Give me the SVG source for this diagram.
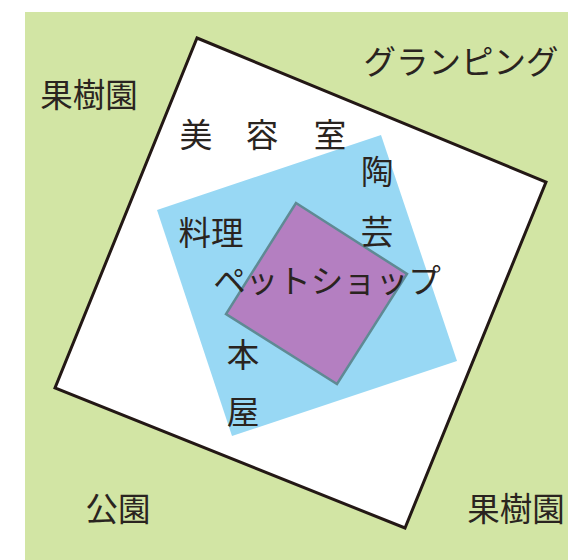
<svg xmlns="http://www.w3.org/2000/svg" width="568" height="560" viewBox="0 0 568 560">
<style>
text{font-family:"Noto Sans CJK JP","Noto Sans CJK SC",sans-serif;fill:#2a2420;font-size:32.5px;text-anchor:middle}
</style>
<rect x="0" y="0" width="568" height="560" fill="#ffffff"/>
<rect x="25" y="12" width="543" height="548" fill="#d2e5a4"/>
<g id="site">
<polygon points="197,38 546,182 405,528 55,388" fill="#ffffff" stroke="#231815" stroke-width="3"/>
</g>
<g id="hall">
<polygon points="381,135 457,361 232,436 157,210" fill="#98d8f4"/>
</g>
<g id="petshop-area">
<polygon points="296,203 407,274 337,384 226,314" fill="#b47fc1" stroke="#5f8a94" stroke-width="2.5"/>
</g>
<g id="labels">
<text x="89" y="107">果樹園</text>
<text x="461" y="74">グランピング</text>
<text x="196" y="147">美</text>
<text x="262" y="147">容</text>
<text x="330" y="147">室</text>
<text x="377" y="184">陶</text>
<text x="377" y="244">芸</text>
<text x="211" y="245">料理</text>
<text x="327" y="293">ペットショップ</text>
<text x="243" y="367">本</text>
<text x="243" y="424">屋</text>
<text x="118" y="521">公園</text>
<text x="516" y="521">果樹園</text>
</g>
</svg>
